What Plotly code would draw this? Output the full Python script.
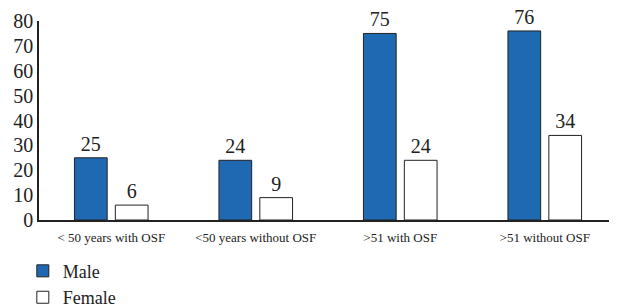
import plotly.graph_objects as go

categories = ["< 50 years with OSF", "<50 years without OSF", ">51 with OSF", ">51 without OSF"]
male = [25, 24, 75, 76]
female = [6, 9, 24, 34]
y_ticks = [0, 10, 20, 30, 40, 50, 60, 70, 80]

FONT = "Liberation Serif"

fig = go.Figure()
fig.add_trace(go.Bar(
    x=categories, y=male, name="Male",
    marker=dict(color="#1f69b3", line=dict(color="#222222", width=1)),
    text=male, textposition="outside", cliponaxis=False,
    textfont=dict(family=FONT, size=20, color="#222222"),
))
fig.add_trace(go.Bar(
    x=categories, y=female, name="Female",
    marker=dict(color="#ffffff", line=dict(color="#222222", width=1)),
    text=female, textposition="outside", cliponaxis=False,
    textfont=dict(family=FONT, size=20, color="#222222"),
))

# page body has an 8px margin, so the figure is sized to fit the 617x308 window
fig.update_layout(
    width=609, height=300,
    margin=dict(l=31, r=0, t=13, b=88, autoexpand=False),
    paper_bgcolor="white", plot_bgcolor="white",
    barmode="group", bargap=0.434, bargroupgap=0.2,
    font=dict(family=FONT, color="#222222"),
    showlegend=True,
    legend=dict(
        orientation="v", x=-0.028, xanchor="left", y=-0.164, yanchor="top",
        font=dict(family=FONT, size=18, color="#222222"),
        tracegroupgap=0, itemwidth=30,
    ),
    xaxis=dict(
        range=[-0.5, 3.5], showline=True, linecolor="#222222", linewidth=1.5,
        showgrid=False, ticks="", tickfont=dict(family=FONT, size=13, color="#222222"),
        fixedrange=True, automargin=False, ticklabelstandoff=5,
    ),
    yaxis=dict(
        range=[0, 80], tickvals=y_ticks, showline=True, linecolor="#222222", linewidth=1.5,
        showgrid=False, zeroline=False, ticks="",
        tickfont=dict(family=FONT, size=20, color="#222222"), fixedrange=True,
        automargin=False, ticklabeloverflow="allow",
    ),
)

fig.write_html("out.html")
